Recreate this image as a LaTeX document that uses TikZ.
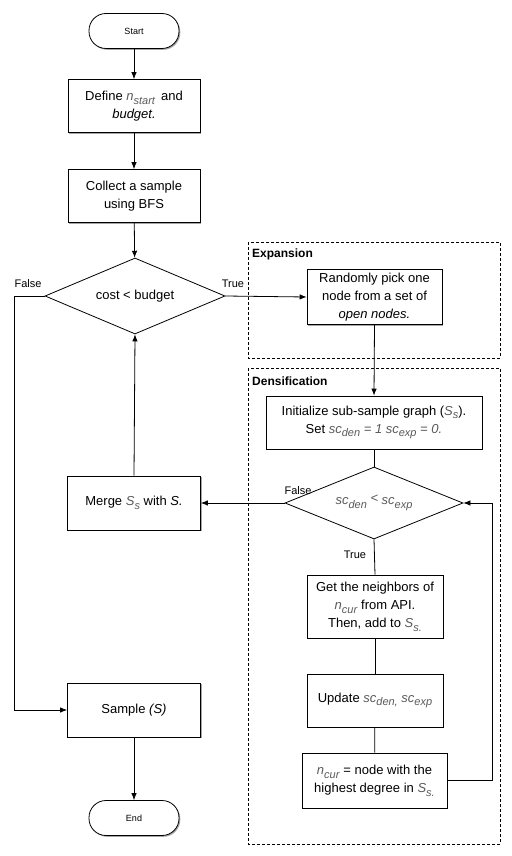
\documentclass[tikz,border=0pt]{standalone}
\usepackage{fontspec}
\setmainfont{Liberation Sans}
\usetikzlibrary{arrows.meta,shapes.geometric,shadows}
\definecolor{vgray}{HTML}{5A5A5A}
\newcommand\vsub[1]{\raisebox{-0.55ex}{\fontsize{11}{11}\selectfont\textit{#1}}}
\newcommand\vv[2]{\textcolor{vgray}{\textit{#1}\vsub{#2}}}
\begin{document}
\begin{tikzpicture}[x=1pt,y=-1pt,
  every node/.style={font=\fontsize{13}{18}\selectfont},
  procbox/.style={draw,line width=0.8pt,fill=white,align=center,inner sep=2pt,
    drop shadow={shadow xshift=1.3pt,shadow yshift=-1.3pt,opacity=0.35,fill=black}},
  termbox/.style={draw,line width=0.8pt,fill=white,rounded corners=17pt,
    minimum width=90pt,minimum height=35pt,font=\fontsize{9}{11}\selectfont,
    drop shadow={shadow xshift=1.3pt,shadow yshift=-1.3pt,opacity=0.35,fill=black}},
  decbox/.style={draw,line width=0.8pt,fill=white,diamond,inner sep=0pt,aspect=2.4},
  frame/.style={draw,dashed,line width=0.7pt,dash pattern=on 3pt off 2pt},
  flow/.style={line width=0.8pt,-{Latex[length=7pt,width=5.5pt]}},
  plain/.style={line width=0.8pt},
  lbl/.style={font=\fontsize{11}{13}\selectfont,inner sep=0pt},
  ttl/.style={font=\bfseries\fontsize{12}{14}\selectfont,inner sep=0pt,anchor=west}]
\useasboundingbox (0,0) rectangle (511,856);

% frames
\draw[frame] (248,242) rectangle (500,358);
\draw[frame] (248,368) rectangle (500,844);
\node[ttl] (texp) at (252,254) {Expansion};
\node[ttl] (tden) at (252,381) {Densification};

% left column
\node[termbox] (start) at (134,31) {Start};
\node[procbox,minimum width=132pt,minimum height=53pt] (define) at (134,106)
  {Define \vv{n}{start}\, and\\\textit{budget.}};
\node[procbox,minimum width=132pt,minimum height=53pt] (collect) at (134,196)
  {Collect a sample\\using BFS};
\node[decbox,minimum width=180pt,minimum height=76pt] (dec1) at (135,296) {cost < budget};
\node[procbox,minimum width=133pt,minimum height=54pt] (merge) at (134,503)
  {Merge \vv{S}{s} with \textit{S.}};
\node[procbox,minimum width=133pt,minimum height=54pt] (sample) at (134,710)
  {Sample \textit{(S)}};
\node[termbox] (end) at (134,818) {End};

% right column
\node[procbox,minimum width=135pt,minimum height=55pt] (random) at (374.5,297)
  {Randomly pick one\\node from a set of\\\textit{open nodes.}};
\node[procbox,minimum width=216pt,minimum height=53pt] (init) at (374,422.5)
  {Initialize sub-sample graph (\vv{S}{s}).\\
   Set \textcolor{vgray}{\textit{sc}\vsub{den}\textit{ = 1 sc}\vsub{exp}\textit{ = 0.}}};
\node[decbox,minimum width=178pt,minimum height=72pt] (dec2) at (374,503)
  {\textcolor{vgray}{\textit{sc}\vsub{den}\raisebox{0.3ex}{\textit{ < }}\textit{sc}\vsub{exp}}};
\node[procbox,minimum width=136pt,minimum height=63pt] (getn) at (375,606.5)
  {Get the neighbors of\\\vv{n}{cur} from API.\\Then, add to \vv{S}{s.}};
\node[procbox,minimum width=136pt,minimum height=53pt] (update) at (375,700.5)
  {Update \vv{sc}{den,} \vv{sc}{exp}};
\node[procbox,minimum width=145pt,minimum height=55pt] (ncur) at (374.5,780.5)
  {\vv{n}{cur} = node with the\\highest degree in \vv{S}{s.}};

\coordinate (fl) at (14,296);
\coordinate (fr) at (492,780.5);

% connectors
\draw[flow] (start) -- (define);
\draw[flow] (define) -- (collect);
\draw[flow] (collect) -- (dec1);
\draw[flow] (dec1.east) -- (random.west);
\draw[flow] (random.south) -- (init.north);
\draw[plain] (init.south) -- (dec2.north);
\draw[flow] (dec2.west) -- (merge.east);
\draw[flow] (merge.north) -- (dec1.south);
\draw[plain] (dec2.south) -- (getn.north);
\draw[plain] (getn) -- (update);
\draw[plain] (update) -- (ncur);
\draw[flow] (ncur.east) -- (fr) |- (dec2.east);
\draw[flow] (dec1.west) -- (fl) |- (sample.west);
\draw[flow] (sample) -- (end);

% labels
\node[lbl] (lf1) at (28,284) {False};
\node[lbl] (lt1) at (233,284) {True};
\node[lbl] (lf2) at (298,491) {False};
\node[lbl] (lt2) at (355,555) {True};
\end{tikzpicture}
\end{document}
